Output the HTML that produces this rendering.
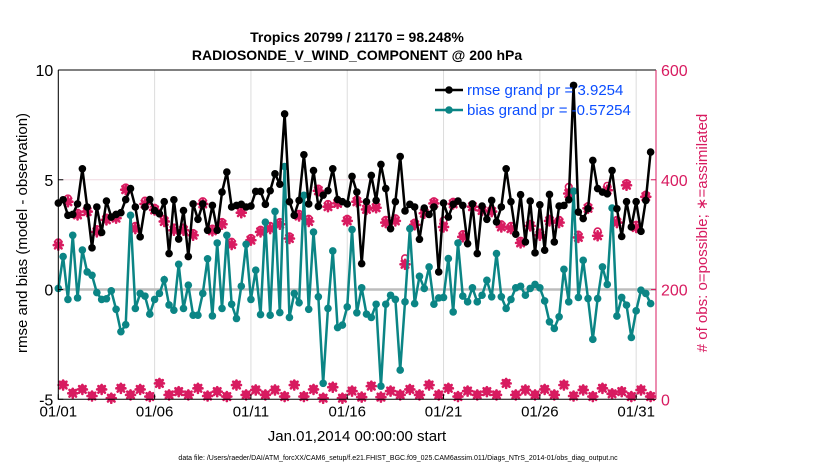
<!DOCTYPE html>
<html><head><meta charset="utf-8"><style>
body{margin:0;background:#fff;}
svg text{font-family:"Liberation Sans",sans-serif;}
</style></head><body>
<svg id="chart" width="830" height="470" viewBox="0 0 830 470" xmlns="http://www.w3.org/2000/svg">
<text x="357" y="42" text-anchor="middle" font-size="14" font-weight="bold">Tropics 20799 / 21170 = 98.248%</text>
<text x="357" y="60" text-anchor="middle" font-size="14" font-weight="bold">RADIOSONDE_V_WIND_COMPONENT @ 200 hPa</text>
<g id="grid"></g><g id="marks"></g><g id="axes"></g>
<text transform="translate(27,233) rotate(-90)" text-anchor="middle" font-size="15">rmse and bias (model - observation)</text>
<text transform="translate(707,233) rotate(-90)" text-anchor="middle" font-size="15" fill="#d81b60"># of obs: o=possible; ∗=assimilated</text>
<text x="357" y="441" text-anchor="middle" font-size="15">Jan.01,2014 00:00:00 start</text>
<text x="398" y="460" text-anchor="middle" font-size="7">data file: /Users/raeder/DAI/ATM_forcXX/CAM6_setup/f.e21.FHIST_BGC.f09_025.CAM6assim.011/Diags_NTrS_2014-01/obs_diag_output.nc</text>
<g>
<line x1="435" y1="90" x2="463" y2="90" stroke="#000" stroke-width="2.5"/><circle cx="449" cy="90" r="3.8" fill="#000"/>
<text x="467" y="95" font-size="15" fill="#0a4dff">rmse grand pr = 3.9254</text>
<line x1="435" y1="110" x2="463" y2="110" stroke="#0b8585" stroke-width="2.5"/><circle cx="449" cy="110" r="3.8" fill="#0b8585"/>
<text x="467" y="115" font-size="15" fill="#0a4dff">bias grand pr = -0.57254</text>
</g>
</svg>
<script>
const rmse=[3.94,4.09,3.38,3.42,3.9,5.5,3.76,1.9,3.76,2.6,4.03,3.3,3.42,3.5,4.1,4.6,3.76,2.4,3.76,4.1,3.6,3.45,4.0,1.64,4.09,2.3,3.6,1.5,3.9,3.2,3.9,2.7,3.83,2.7,4.44,5.35,3.76,3.83,3.88,3.76,3.8,4.47,4.47,3.88,4.5,5.27,4.8,8.0,4.0,3.38,4.06,6.14,3.9,5.42,3.79,4.3,4.5,5.5,4.1,4.0,3.9,5.15,4.44,1.18,4.0,5.2,4.06,5.7,4.6,2.77,4.0,6.06,3.58,3.88,3.76,2.29,3.71,3.42,3.76,0.8,3.94,3.3,3.88,4.03,3.83,2.09,3.9,1.64,3.8,3.2,4.06,3.08,3.76,5.5,4.0,2.52,4.32,2.17,4.03,1.67,3.86,1.79,4.33,2.17,3.8,3.83,4.09,9.3,3.53,3.23,3.68,5.88,4.6,4.44,4.36,5.42,3.68,2.42,4.0,2.85,4.0,2.65,4.06,6.26];
const bias=[0.05,1.5,-0.45,2.47,-0.38,1.8,0.8,0.65,-0.14,-0.45,-0.42,-0.06,-0.9,-1.92,-1.6,3.38,-0.86,-0.18,-0.3,-1.12,-0.45,-0.18,0.45,-0.7,-0.94,1.15,-0.86,0.2,-1.17,-1.17,-0.18,1.4,-1.2,2.12,-0.86,2.47,-0.67,-1.32,0.15,2.06,-0.45,0.88,-1.14,3.07,-1.17,3.56,-1.05,5.6,-1.27,-0.18,-0.6,4.29,-0.9,2.62,-0.33,-4.27,-0.86,1.76,-1.73,-1.62,-0.79,2.73,-1.06,0.08,-1.12,-1.27,-0.67,-4.4,-0.67,-0.26,-0.45,-3.67,-0.56,2.77,-0.64,0.6,0.05,1.03,-0.67,-0.38,-0.36,1.41,-1.02,2.12,-0.3,-0.56,0.08,-0.56,-0.26,0.42,-0.33,1.64,-0.33,-0.86,-0.45,0.08,0.15,-0.26,0.05,0.23,0.08,-0.52,-1.47,-1.77,-1.24,0.92,-0.56,4.48,-0.36,1.33,-0.41,-2.27,-0.41,1.03,0.23,3.71,-1.21,-0.36,-0.71,-2.18,-0.97,-0.03,-0.18,-0.64];
const nAssim=[281,26,360,11,336,18,342,6,305,18,327,2,330,20,382,8,311,18,356,5,345,29,324,8,308,14,308,8,299,20,356,6,307,14,319,5,282,26,340,8,290,17,305,8,311,17,319,5,293,26,334,5,324,18,380,2,351,22,357,2,325,15,360,4,346,24,349,4,322,15,325,8,246,18,318,8,339,26,357,8,314,20,356,5,296,15,351,8,344,14,342,8,314,29,311,8,285,17,316,8,299,18,325,8,322,26,375,6,295,17,348,5,298,20,381,10,322,14,390,5,313,17,369,5];
const nPoss=[286,27,366,12,340,19,346,7,310,19,331,3,336,21,386,9,316,19,362,6,349,30,329,9,313,15,313,9,303,21,361,7,311,15,323,6,287,27,344,9,294,18,309,9,316,18,323,6,297,27,338,6,329,19,384,3,356,23,361,3,329,16,364,5,350,25,353,5,327,16,330,9,257,19,322,9,343,27,361,9,326,21,360,6,301,16,355,9,348,15,346,9,319,30,316,9,289,18,320,9,304,19,329,9,327,27,387,7,300,18,352,6,306,21,389,11,327,15,394,6,318,18,373,6];
const xTickLabels=["01/01","01/06","01/11","01/16","01/21","01/26","01/31"];
const xTickDays=[0,5,10,15,20,25,30];
const leftTicks=[10,5,0,-5];
const rightTicks=[600,400,200,0];
const X0=58.3,X1=656,Y0=70,Y1=399.3,DMAX=31.03;
const xs=d=>X0+(X1-X0)*d/DMAX;
const yl=v=>Y1-(Y1-Y0)*(v+5)/15;
const yr=c=>Y1-(Y1-Y0)*c/600;
const NS="http://www.w3.org/2000/svg";
function mk(tag,attrs,parent){const e=document.createElementNS(NS,tag);for(const k in attrs)e.setAttribute(k,attrs[k]);parent.appendChild(e);return e;}
const grid=document.getElementById('grid'),marks=document.getElementById('marks'),axes=document.getElementById('axes');
const PINK="#d81b60",TEAL="#0b8585";
xTickDays.forEach((d,i)=>{
 const g=mk('line',{x1:xs(d),x2:xs(d),y1:Y0,y2:Y1,stroke:'#dcdcdc','stroke-width':1},grid);
 
 
 const t=mk('line',{x1:xs(d),x2:xs(d),y1:Y1,y2:Y1-5,stroke:'#000'},axes);
 
 
 const l=mk('text',{x:xs(d),y:Y1+17,'text-anchor':'middle','font-size':15},axes);
 l.textContent=xTickLabels[i];
 
 
});
const h5=mk('line',{x1:X0,x2:X1,y1:yl(5),y2:yl(5),stroke:'#f0d8e0','stroke-width':1},grid);


const h0=mk('line',{x1:X0,x2:X1,y1:yl(0),y2:yl(0),stroke:'#bdbdbd','stroke-width':2.5},grid);


leftTicks.forEach(v=>{
 const t=mk('line',{x1:X0,x2:X0+5,y1:yl(v),y2:yl(v),stroke:'#000'},axes);
 
 
 const l=mk('text',{x:X0-5,y:yl(v)+6,'text-anchor':'end','font-size':16},axes);
 l.textContent=v;
 
 
});
rightTicks.forEach(v=>{
 const t=mk('line',{x1:X1,x2:X1-5,y1:yr(v),y2:yr(v),stroke:PINK},axes);
 
 
 const l=mk('text',{x:X1+5,y:yr(v)+6,'font-size':16,fill:PINK},axes);
 l.textContent=v;
 
 
});
const frame=mk('path',{d:`M${X0},${Y0}V${Y1}H${X1}`,fill:'none',stroke:'#000','stroke-width':1},axes);


const topLine=mk('line',{x1:X0,x2:X1,y1:Y0,y2:Y0,stroke:'#000'},axes);


const rax=mk('line',{x1:X1,x2:X1,y1:Y0,y2:Y1,stroke:PINK},axes);


const dayOf=i=>i*0.25;
nPoss.forEach((c,i)=>{
 const o=mk('circle',{cx:xs(dayOf(i)),cy:yr(c),r:3.3,fill:'none',stroke:PINK,'stroke-width':1.6},marks);
 
 
});
nAssim.forEach((c,i)=>{
 const x=xs(dayOf(i)),y=yr(c);
 const s=mk('path',{d:`M${x-4.5},${y}H${x+4.5}M${x},${y-4.5}V${y+4.5}M${x-3.3},${y-3.3}L${x+3.3},${y+3.3}M${x-3.3},${y+3.3}L${x+3.3},${y-3.3}`,stroke:PINK,'stroke-width':2.6,'stroke-linecap':'round'},marks);
 
 
});
function series(arr,color,name){
 const pl=mk('polyline',{points:arr.map((v,i)=>xs(dayOf(i))+','+yl(v)).join(' '),fill:'none',stroke:color,'stroke-width':2.5},marks);
 
 
 arr.forEach((v,i)=>{
  const c=mk('circle',{cx:xs(dayOf(i)),cy:yl(v),r:3.8,fill:color},marks);
  
  
 });
}
series(bias,TEAL,'bias');
series(rmse,'#000','rmse');
</script>
</body></html>
